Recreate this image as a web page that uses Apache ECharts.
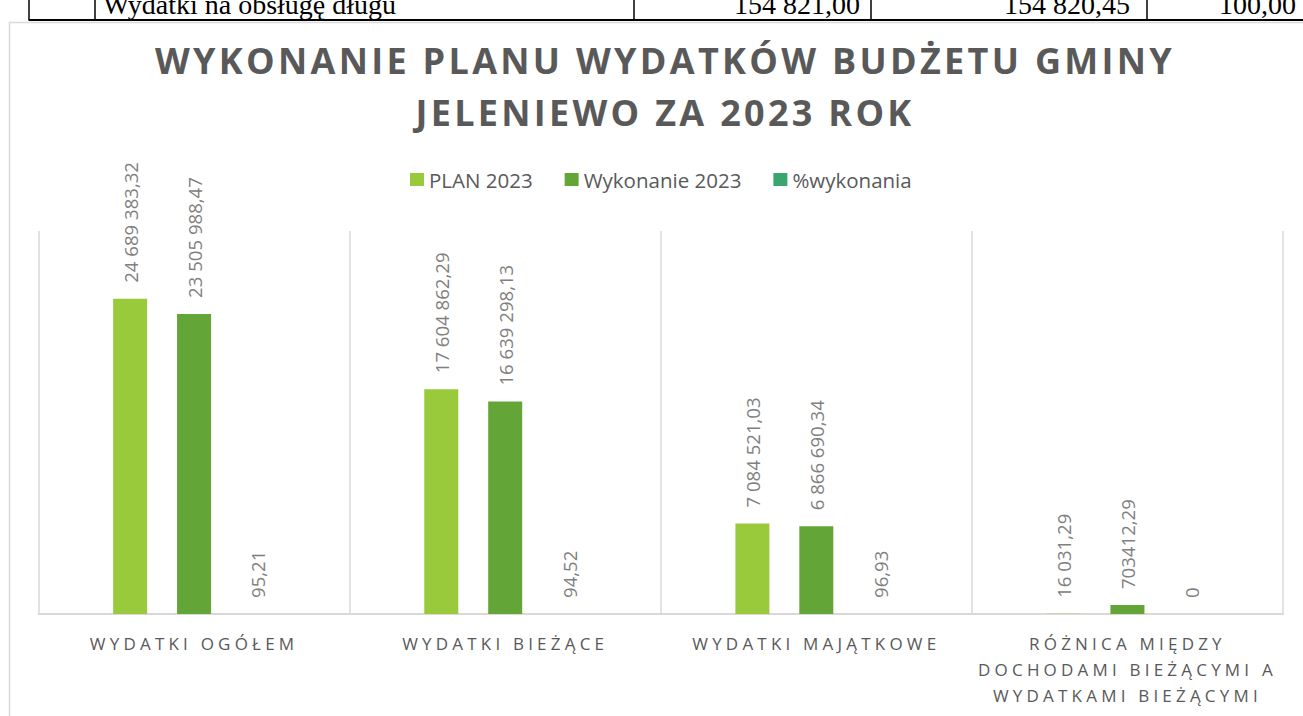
<!DOCTYPE html>
<html>
<head>
<meta charset="utf-8">
<title>Wykonanie planu wydatków budżetu gminy Jeleniewo za 2023 rok</title>
<script src="https://cdn.jsdelivr.net/npm/echarts@6/dist/echarts.min.js"></script>
<style>
  html, body { margin: 0; padding: 0; background: #fff; }
  #main { width: 1303px; height: 716px; }
  /* rozstrzelone litery jak w Excelu: tytul (Lato w fallbacku) i podpisy osi (Roboto w fallbacku) */
  #main text[style*="Lato"] { letter-spacing: 3.3px; }
  #main text[style*="Roboto"] { letter-spacing: 4.2px; }
</style>
</head>
<body>
<div id="main"></div>
<script>
// ==================================================
// dane
const kategorie = [
  'WYDATKI OGÓŁEM',
  'WYDATKI BIEŻĄCE',
  'WYDATKI MAJĄTKOWE',
  'RÓŻNICA MIĘDZY\nDOCHODAMI BIEŻĄCYMI A\nWYDATKAMI BIEŻĄCYMI'
];
const plan2023 = [24689383.32, 17604862.29, 7084521.03, 16031.29];
const wykonanie2023 = [23505988.47, 16639298.13, 6866690.34, 703412.29];
const procWykonania = [95.21, 94.52, 96.93, 0];

// podpisy slupkow - tak jak w arkuszu (ostatni bez spacji)
const planTxt = ['24 689 383,32', '17 604 862,29', '7 084 521,03', '16 031,29'];
const wykTxt = ['23 505 988,47', '16 639 298,13', '6 866 690,34', '703412,29'];
const procTxt = ['95,21', '94,52', '96,93', '0'];

// kawalek tabeli nad wykresem
const wierszTabeli = ['Wydatki na obsługę długu', '154 821,00', '154 820,45', '100,00'];


// ==================================================
var szary = '#595959';

function etykieta(teksty) {
  return {
    show: true,
    position: 'top',
    rotate: 90,
    align: 'left',
    verticalAlign: 'middle',
    distance: 16,
    color: '#808080',
    fontSize: 18.6,
    fontFamily: "'Open Sans', sans-serif",
    formatter: function(p) { return teksty[p.dataIndex]; }
  };
}

function liniaPion(x) {
  return { type: 'line', silent: true, shape: { x1: x, y1: 0, x2: x, y2: 20 }, style: { stroke: '#000', lineWidth: 1.5 } };
}

function komorka(tekst, x, wyr) {
  return {
    type: 'text', silent: true, x: x, y: 4,
    style: { text: tekst, fontSize: 28, fontFamily: "'Liberation Serif', serif", fill: '#000', align: wyr, verticalAlign: 'middle' }
  };
}

var chart = echarts.init(document.getElementById('main'), null, { renderer: 'svg' });

chart.setOption({
  animation: false,
  backgroundColor: '#fff',
  title: {
    text: 'WYKONANIE PLANU WYDATKÓW BUDŻETU GMINY\nJELENIEWO ZA 2023 ROK',
    left: 665,
    top: 34,
    padding: 0,
    textAlign: 'center',
    textStyle: {
      color: szary,
      fontSize: 36,
      fontWeight: 'bold',
      fontFamily: "'Open Sans', Lato",
      lineHeight: 52
    }
  },
  legend: {
    left: 410,
    top: 169,
    padding: 0,
    icon: 'rect',
    itemWidth: 14,
    itemHeight: 13,
    itemGap: 32,
    textStyle: { color: szary, fontSize: 20.5, fontFamily: "'Open Sans', sans-serif" },
    data: ['PLAN 2023', 'Wykonanie 2023', '%wykonania']
  },
  grid: { left: 38.5, right: 20, top: 231, bottom: 102 },
  xAxis: {
    type: 'category',
    data: kategorie,
    axisLine: { show: true, lineStyle: { color: '#d9d9d9', width: 2 } },
    axisTick: { show: false },
    splitLine: { show: true, lineStyle: { color: '#d9d9d9', width: 1.5 } },
    axisLabel: {
      interval: 0,
      margin: 16,
      color: szary,
      fontSize: 17,
      lineHeight: 26,
      fontFamily: "'Open Sans', Roboto"
    }
  },
  yAxis: { type: 'value', min: 0, max: 30000000, show: false },
  series: [
    { name: 'PLAN 2023', type: 'bar', data: plan2023, barWidth: 34, barGap: '88%', itemStyle: { color: '#99CA3C' }, label: etykieta(planTxt) },
    { name: 'Wykonanie 2023', type: 'bar', data: wykonanie2023, barWidth: 34, barGap: '88%', itemStyle: { color: '#63A537' }, label: etykieta(wykTxt) },
    { name: '%wykonania', type: 'bar', data: procWykonania, barWidth: 34, barGap: '88%', itemStyle: { color: '#37A76F' }, label: etykieta(procTxt) }
  ],
  graphic: [
    // ramka wykresu
    { type: 'rect', silent: true, z: -10, shape: { x: 9.5, y: 22.5, width: 1400, height: 800 }, style: { fill: '#fff', stroke: '#d9d9d9', lineWidth: 1.5 } },
    // tabela
    { type: 'line', silent: true, shape: { x1: 28.5, y1: 20, x2: 1303, y2: 20 }, style: { stroke: '#000', lineWidth: 2 } },
    liniaPion(29), liniaPion(95), liniaPion(634), liniaPion(871), liniaPion(1147),
    komorka(wierszTabeli[0], 103, 'left'),
    komorka(wierszTabeli[1], 860, 'right'),
    komorka(wierszTabeli[2], 1130, 'right'),
    komorka(wierszTabeli[3], 1219, 'left')
  ]
});

window.addEventListener('resize', function() { chart.resize(); });
</script>
</body>
</html>
